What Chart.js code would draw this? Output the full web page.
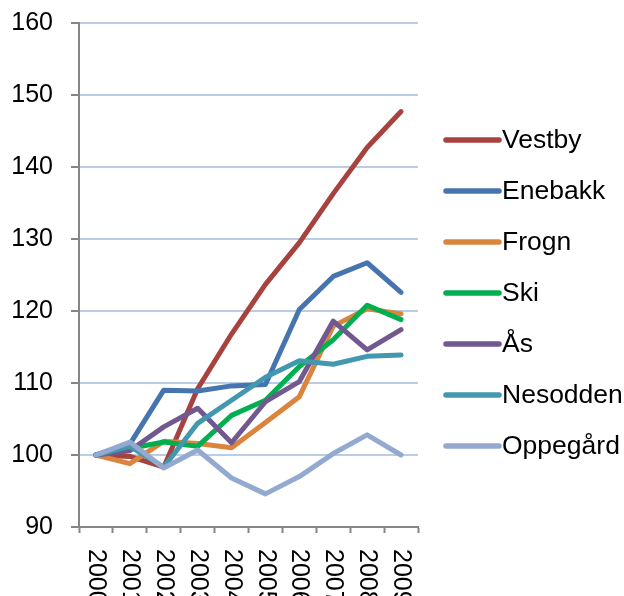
<!DOCTYPE html>
<html>
<head>
<meta charset="utf-8">
<script src="https://cdn.jsdelivr.net/npm/chart.js@4/dist/chart.umd.min.js"></script>
<style>
html,body{margin:0;padding:0;background:#fff;}
#c{display:block;}
</style>
</head>
<body>
<canvas id="c" width="624" height="596"></canvas>
<script>
const years = ['2000','2001','2002','2003','2004','2005','2006','2007','2008','2009'];
const seriesNames = ['Vestby','Enebakk','Frogn','Ski','Ås','Nesodden','Oppegård'];
const vestby   = [100, 99.8, 98.3, 109.2, 116.8, 123.7, 129.5, 136.3, 142.7, 147.7];
const enebakk  = [100, 101.5, 109.0, 108.9, 109.6, 109.8, 120.2, 124.8, 126.7, 122.6];
const frogn    = [100, 98.8, 101.9, 101.6, 101.0, 104.5, 108.1, 117.9, 120.3, 119.6];
const ski      = [100, 100.9, 101.8, 101.2, 105.5, 107.6, 112.3, 116.0, 120.8, 118.8];
const aas      = [100, 100.6, 103.9, 106.5, 101.7, 107.4, 110.2, 118.6, 114.6, 117.4];
const nesodden = [100, 101.2, 98.3, 104.4, 107.6, 110.8, 113.1, 112.6, 113.7, 113.9];
const oppegard = [100, 101.8, 98.2, 100.7, 96.8, 94.6, 97.0, 100.2, 102.8, 100.0];
const yTicks = [90, 100, 110, 120, 130, 140, 150, 160];

const values = [vestby, enebakk, frogn, ski, aas, nesodden, oppegard];
const colors = ['#A8423F', '#4674AF', '#DB843D', '#00B050', '#71588F', '#4198AF', '#93A9CF'];
const FONT = '"Liberation Sans", Arial, sans-serif';

const datasets = seriesNames.map((n, i) => ({
  label: n,
  data: values[i],
  borderColor: colors[i],
  backgroundColor: colors[i],
  borderWidth: 5,
  pointRadius: 0,
  tension: 0,
  fill: false,
  borderJoinStyle: 'round',
  borderCapStyle: 'round',
  order: seriesNames.length - i
}));

const xLabelPlugin = {
  id: 'xLabels',
  afterDraw(chart) {
    const ctx = chart.ctx;
    const xs = chart.scales.x;
    ctx.save();
    ctx.fillStyle = '#000';
    ctx.font = '25px ' + FONT;
    ctx.textAlign = 'left';
    ctx.textBaseline = 'middle';
    years.forEach((lab, i) => {
      const x = xs.getPixelForTick(i);
      ctx.save();
      ctx.translate(x, xs.top + 22);
      ctx.rotate(Math.PI / 2);
      ctx.fillText(lab, 0, 0);
      ctx.restore();
    });
    ctx.restore();
  }
};

const legendPlugin = {
  id: 'customLegend',
  afterDraw(chart) {
    const ctx = chart.ctx;
    ctx.save();
    ctx.font = '26.5px ' + FONT;
    ctx.textBaseline = 'middle';
    ctx.textAlign = 'left';
    chart.data.datasets.forEach((ds, i) => {
      const y = 140 + i * 51;
      ctx.strokeStyle = ds.borderColor;
      ctx.lineWidth = 5.5;
      ctx.lineCap = 'round';
      ctx.beginPath();
      ctx.moveTo(446, y);
      ctx.lineTo(499, y);
      ctx.stroke();
      ctx.fillStyle = '#000';
      ctx.fillText(ds.label, 502, y + 1);
    });
    ctx.restore();
  }
};

new Chart(document.getElementById('c'), {
  type: 'line',
  data: { labels: years, datasets },
  options: {
    responsive: false,
    animation: false,
    events: [],
    layout: { padding: { left: 0, top: 23, right: 206, bottom: 0 } },
    plugins: { legend: { display: false }, tooltip: { enabled: false } },
    scales: {
      x: {
        type: 'category',
        offset: true,
        grid: {
          display: true,
          drawOnChartArea: false,
          offset: true,
          drawTicks: true,
          tickLength: 6,
          tickColor: '#868686',
          tickWidth: 2,
          color: '#868686'
        },
        border: { display: true, color: '#868686', width: 2 },
        ticks: { display: false },
        afterFit(s) { s.height = 69; s.paddingLeft = 0; s.paddingRight = 0; }
      },
      y: {
        min: 90,
        max: 160,
        afterBuildTicks(s) { s.ticks = yTicks.map(v => ({ value: v })); },
        grid: {
          color: '#B9CDE5',
          lineWidth: 2,
          tickColor: '#868686',
          tickWidth: 2,
          tickLength: 8
        },
        border: { display: true, color: '#868686', width: 2 },
        ticks: {
          color: '#000',
          font: { size: 25, family: FONT },
          padding: 18
        },
        afterFit(s) { s.width = 79; s.paddingTop = 0; s.paddingBottom = 0; }
      }
    }
  },
  plugins: [xLabelPlugin, legendPlugin]
});
</script>
</body>
</html>
